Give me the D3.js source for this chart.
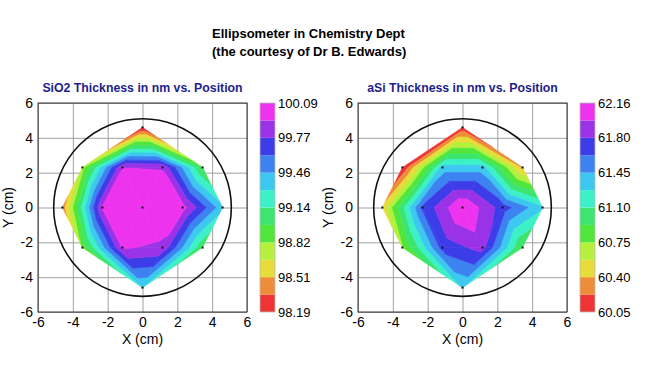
<!DOCTYPE html>
<html>
<head>
<meta charset="utf-8">
<script src="https://cdn.jsdelivr.net/npm/d3@7"></script>
<style>
  body { margin: 0; background: #fff; }
  text { font-family: Arial, "Liberation Sans", sans-serif; }
</style>
</head>
<body>
<svg id="chart" width="652" height="380"></svg>
<script>
// measurement sites on the wafer (cm)
const ptX = [0, -3.45, -1.15, 1.15, 3.45, -4.6, -2.3, 0, 2.3, 4.6, -3.45, -1.15, 1.15, 3.45, 0];
const ptY = [4.6, 2.3, 2.3, 2.3, 2.3, 0, 0, 0, 0, 0, -2.3, -2.3, -2.3, -2.3, -4.6];

// thickness (nm) at each site
const sio2 = [98.19, 98.75, 99.93, 99.92, 98.95, 98.40, 99.95, 100.09, 100.00, 99.35, 98.85, 99.95, 99.90, 99.00, 99.30];
const asi  = [60.10, 60.05, 61.35, 61.35, 60.35, 60.45, 61.66, 62.156, 61.72, 61.30, 60.72, 61.70, 61.87, 60.90, 61.30];

const sio2Labels = ["100.09", "99.77", "99.46", "99.14", "98.82", "98.51", "98.19"];
const asiLabels  = ["62.16", "61.80", "61.45", "61.10", "60.75", "60.40", "60.05"];

// low -> high
const bandColors = ["#ee3434", "#ee8c3a", "#e8dc3a", "#b4f03c", "#50e63c", "#3ce66e",
                    "#3cf0c8", "#3cc8f0", "#3c82f0", "#3c3ce8", "#9a33e8", "#ee33ee"];
const axisTicks = [-6, -4, -2, 0, 2, 4, 6];
const waferRadius = 5.1;

const svg = d3.select("#chart");
const size = 209;

svg.append("text").attr("x", 212).attr("y", 38)
    .style("font-size", "13px").style("font-weight", 700)
    .text("Ellipsometer in Chemistry Dept");
svg.append("text").attr("x", 212).attr("y", 56)
    .style("font-size", "13px").style("font-weight", 700)
    .text("(the courtesy of Dr B. Edwards)");

// keep the part of a polygon where v >= t (above) or v <= t
function clip(poly, t, above) {
    let out = [];
    for (let i = 0; i < poly.length; i++) {
        let a = poly[i], b = poly[(i + 1) % poly.length];
        let ina = above ? a.v >= t : a.v <= t;
        let inb = above ? b.v >= t : b.v <= t;
        if (ina) out.push(a);
        if (ina !== inb) {
            let f = (t - a.v) / (b.v - a.v);
            out.push({x: a.x + f * (b.x - a.x), y: a.y + f * (b.y - a.y), v: t});
        }
    }
    return out;
}

function styleAxis(a) {
    a.select(".domain").remove();
    a.selectAll("line").attr("stroke", "#a0a0a0");
    a.selectAll("text").style("font-size", "14px").attr("fill", "#000")
        .style("font-family", "Arial, 'Liberation Sans', sans-serif");
}

function drawPanel(left, title, values, labels) {
    let g = svg.append("g").attr("transform", `translate(${left}, 103)`);

    let x = d3.scaleLinear().domain([-6, 6]).range([0, size]);
    let y = d3.scaleLinear().domain([-6, 6]).range([size, 0]);

    svg.append("text")
        .attr("x", left + size / 2).attr("y", 92)
        .attr("text-anchor", "middle")
        .style("font-size", "12.3px").style("font-weight", 700)
        .style("fill", "#1e1e8c")
        .text(title);

    // grid
    g.append("g").attr("transform", `translate(0, ${size})`)
        .call(d3.axisBottom(x).tickValues(axisTicks).tickFormat(d => String(d))
            .tickSize(-size).tickPadding(5))
        .call(styleAxis);
    g.append("g")
        .call(d3.axisLeft(y).tickValues(axisTicks).tickFormat(d => String(d))
            .tickSize(-size).tickPadding(5))
        .call(styleAxis);

    // filled contour bands over a triangulation of the sites
    let vmin = d3.min(values), vmax = d3.max(values);
    let step = (vmax - vmin) / bandColors.length;
    let pts = ptX.map((px, i) => [px, ptY[i]]);
    let tri = d3.Delaunay.from(pts).triangles;
    let line = d3.line().x(d => x(d.x)).y(d => y(d.y));

    for (let k = 0; k < tri.length; k += 3) {
        let poly = [tri[k], tri[k + 1], tri[k + 2]].map(i => ({x: ptX[i], y: ptY[i], v: values[i]}));
        bandColors.forEach(function(c, b) {
            let lo = vmin + b * step, hi = vmin + (b + 1) * step;
            let p = clip(poly, lo, true);
            if (b < bandColors.length - 1) p = clip(p, hi, false);
            if (p.length < 3) return;
            g.append("path")
                .attr("d", line(p) + "Z")
                .attr("fill", c)
                .attr("stroke", c)
                .attr("stroke-width", 0.6)
                .attr("stroke-linejoin", "round");
        });
    }

    // wafer outline
    g.append("circle")
        .attr("cx", x(0)).attr("cy", y(0))
        .attr("r", x(waferRadius) - x(0))
        .attr("fill", "none").attr("stroke", "#111").attr("stroke-width", 1.6);

    g.selectAll(".site").data(pts).enter()
        .append("rect")
        .attr("x", d => x(d[0]) - 1).attr("y", d => y(d[1]) - 1)
        .attr("width", 2).attr("height", 2)
        .attr("fill", "#111");

    g.append("rect").attr("width", size).attr("height", size)
        .attr("fill", "none").attr("stroke", "#333").attr("stroke-width", 1);

    g.append("text")
        .attr("x", size / 2).attr("y", size + 32)
        .attr("text-anchor", "middle").style("font-size", "14px")
        .text("X (cm)");
    g.append("text")
        .attr("transform", `translate(${-25}, ${size / 2}) rotate(-90)`)
        .attr("text-anchor", "middle").style("font-size", "14px")
        .text("Y (cm)");

    // colour bar
    let cb = svg.append("g").attr("transform", `translate(${left + 222}, 103)`);
    let cy = d3.scaleLinear().domain([vmin, vmax]).range([size, 0]);
    cb.selectAll("rect.band").data(bandColors).enter()
        .append("rect")
        .attr("x", 0).attr("width", 15)
        .attr("y", (c, b) => cy(vmin + (b + 1) * step))
        .attr("height", (c, b) => cy(vmin + b * step) - cy(vmin + (b + 1) * step))
        .attr("fill", c => c);
    cb.append("rect").attr("width", 15).attr("height", size)
        .attr("fill", "none").attr("stroke", "#bbb").attr("stroke-width", 0.8);
    cb.selectAll("text").data(labels).enter()
        .append("text")
        .attr("x", 18)
        .attr("y", (d, i) => size * i / (labels.length - 1) + 4.5)
        .style("font-size", "13px")
        .text(d => d);
}

drawPanel(38, "SiO2 Thickness in nm vs. Position", sio2, sio2Labels);
drawPanel(358, "aSi Thickness in nm vs. Position", asi, asiLabels);
</script>
</body>
</html>
